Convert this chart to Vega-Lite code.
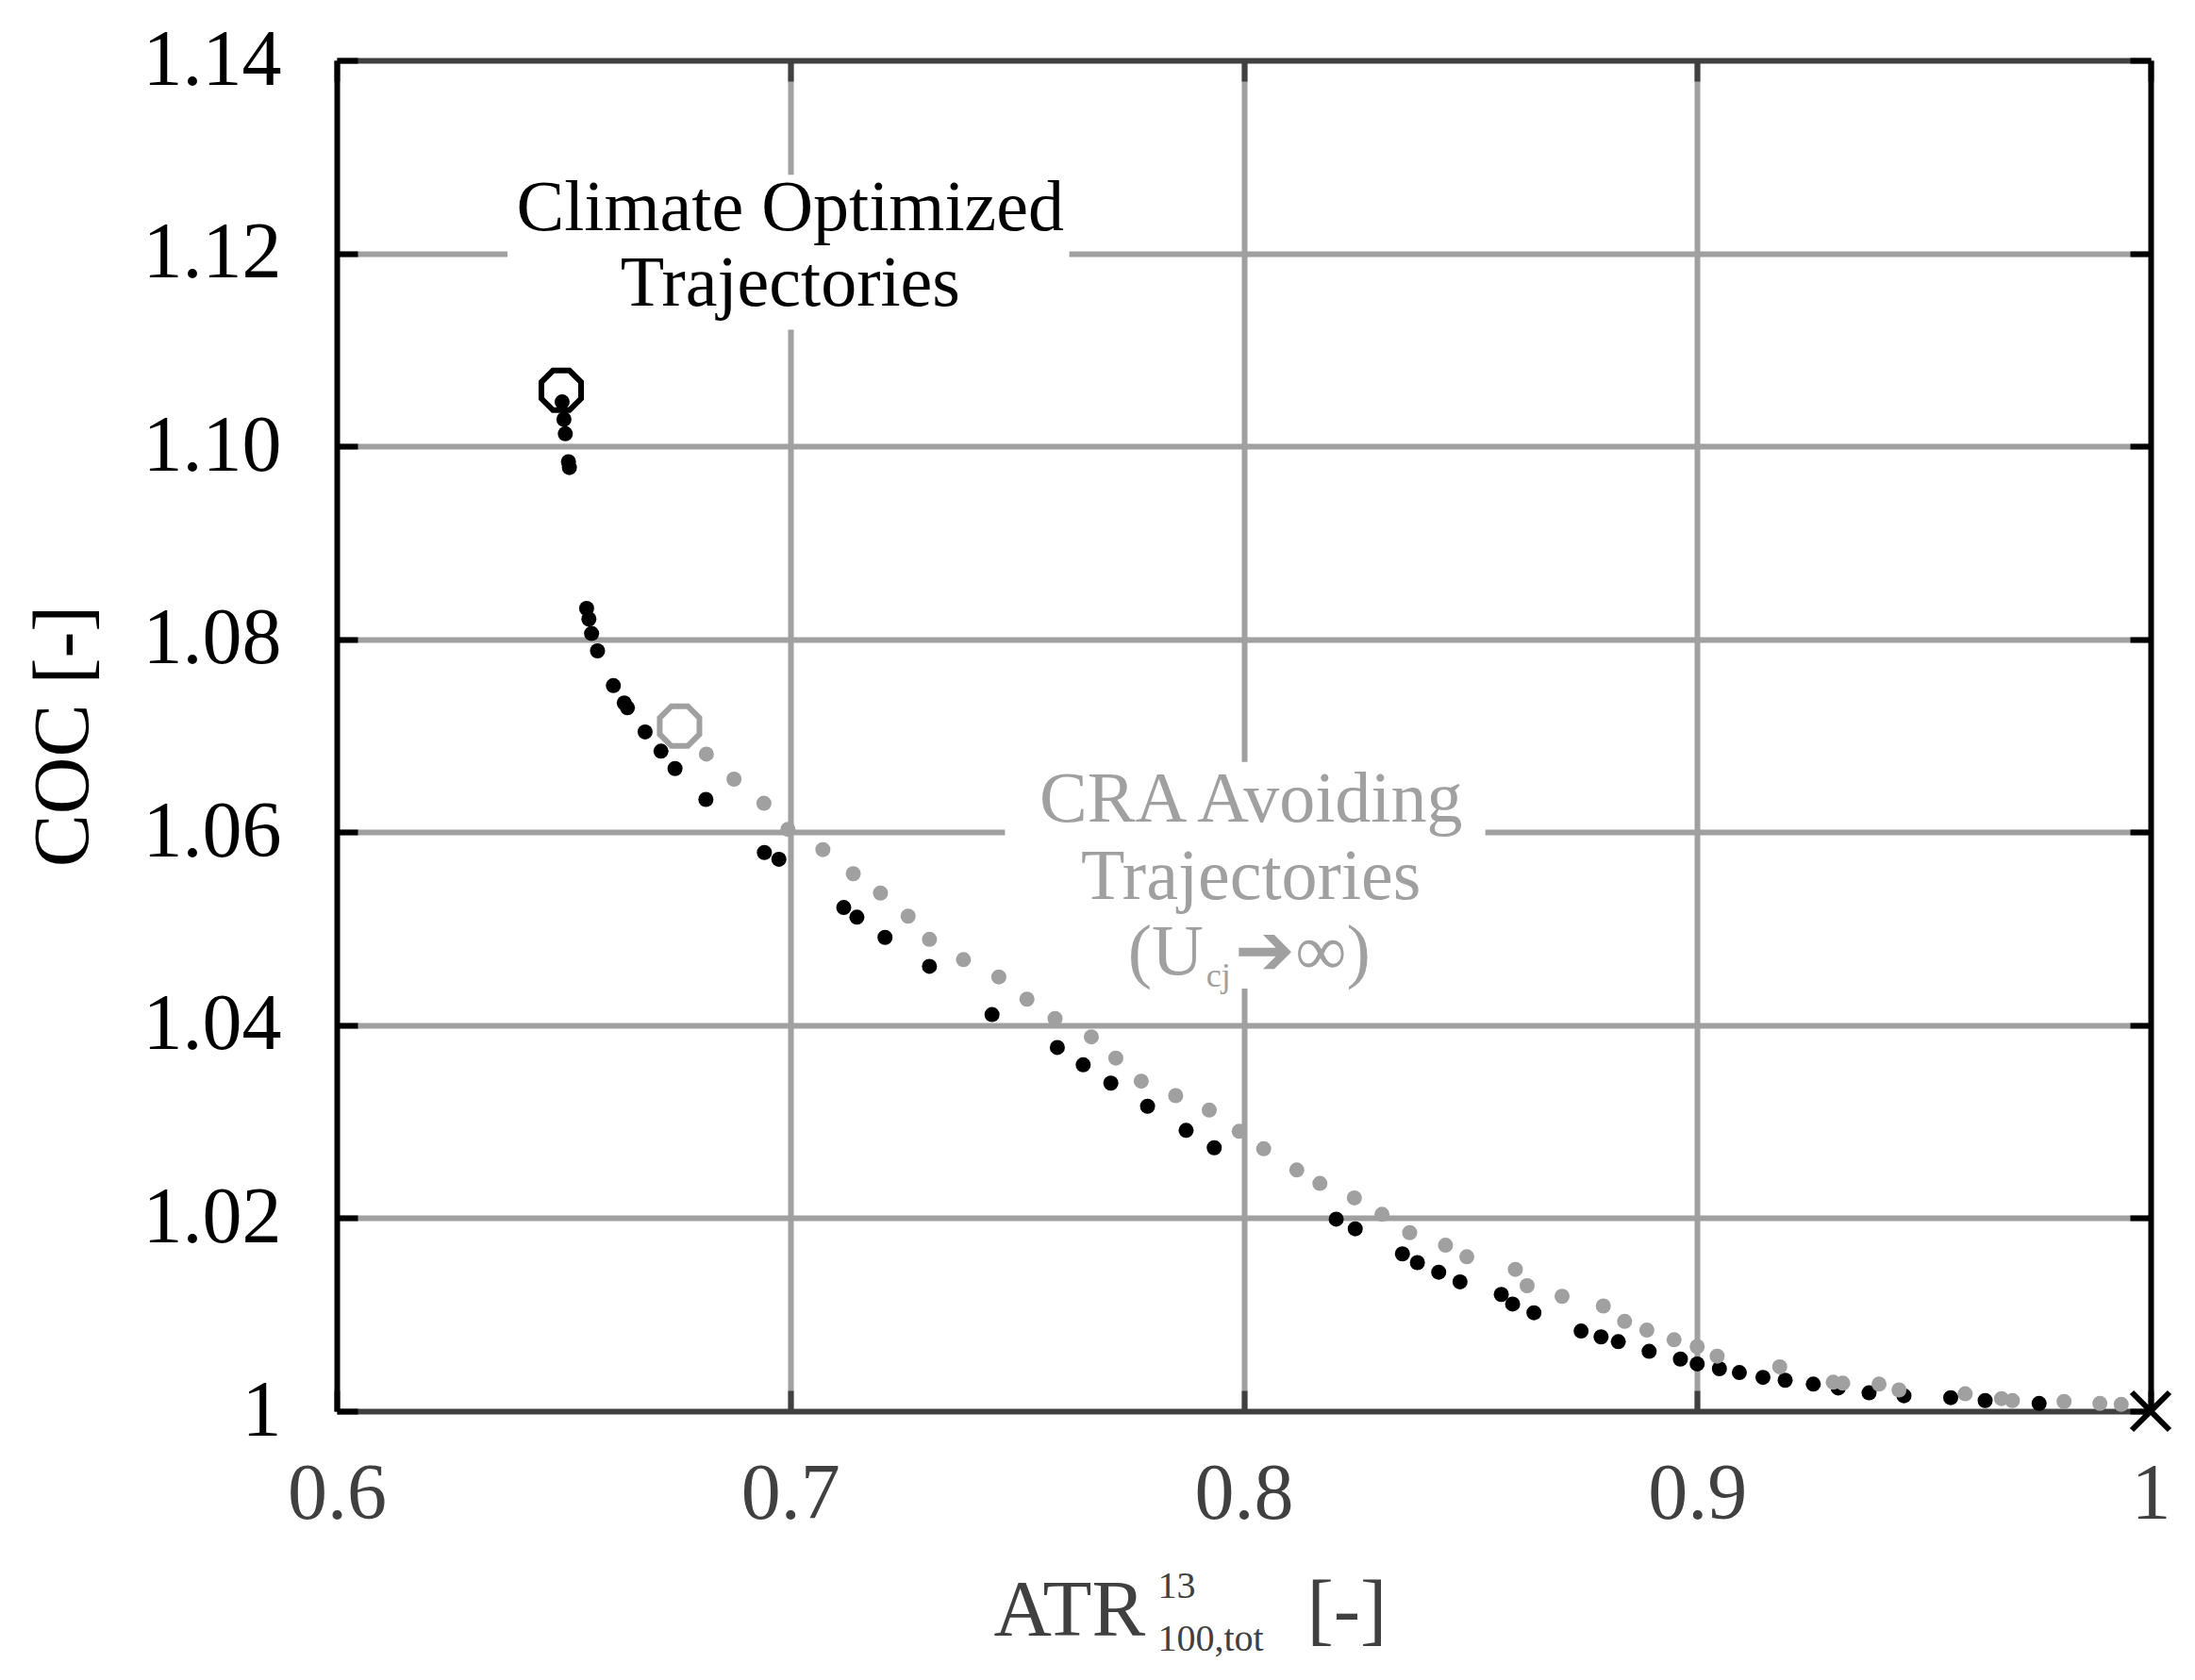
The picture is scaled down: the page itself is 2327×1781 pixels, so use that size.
{
  "$schema": "https://vega.github.io/schema/vega-lite/v6.json",
  "description": "COC versus ATR for climate optimized and CRA avoiding trajectories",
  "width": 1923,
  "height": 1432,
  "autosize": "none",
  "padding": {"left": 357, "top": 64, "right": 47, "bottom": 285},
  "background": "white",
  "config": {
    "view": {"stroke": null},
    "font": "Liberation Serif",
    "axis": {"labelFont": "Liberation Serif", "titleFont": "Liberation Serif", "titleFontWeight": "normal"}
  },
  "datasets": {
    "boxes": [
      {"x": 0.63765, "x2": 0.76154, "y": 1.1121, "y2": 1.12814},
      {"x": 0.74735, "x2": 0.85329, "y": 1.04379, "y2": 1.06728}
    ],
    "climate": [
      {"x": 0.6497, "y": 1.1046}, {"x": 0.6501, "y": 1.1028}, {"x": 0.6504, "y": 1.1013},
      {"x": 0.6511, "y": 1.0984}, {"x": 0.6513, "y": 1.0978}, {"x": 0.6551, "y": 1.0832},
      {"x": 0.6556, "y": 1.0821}, {"x": 0.6562, "y": 1.0806}, {"x": 0.6575, "y": 1.0788},
      {"x": 0.661, "y": 1.0752}, {"x": 0.6634, "y": 1.0734}, {"x": 0.6641, "y": 1.0729},
      {"x": 0.668, "y": 1.0704}, {"x": 0.6715, "y": 1.0684}, {"x": 0.6746, "y": 1.0666},
      {"x": 0.6814, "y": 1.0634}, {"x": 0.6943, "y": 1.0579}, {"x": 0.6975, "y": 1.0572},
      {"x": 0.7118, "y": 1.0522}, {"x": 0.7147, "y": 1.0512}, {"x": 0.7209, "y": 1.0491},
      {"x": 0.7307, "y": 1.0461}, {"x": 0.7445, "y": 1.0411}, {"x": 0.7589, "y": 1.0377},
      {"x": 0.7646, "y": 1.0359}, {"x": 0.7707, "y": 1.034}, {"x": 0.7788, "y": 1.0316},
      {"x": 0.7873, "y": 1.0291}, {"x": 0.7935, "y": 1.0273}, {"x": 0.8204, "y": 1.0199},
      {"x": 0.8246, "y": 1.0189}, {"x": 0.835, "y": 1.0163}, {"x": 0.8383, "y": 1.0154},
      {"x": 0.843, "y": 1.0144}, {"x": 0.8477, "y": 1.0134}, {"x": 0.8568, "y": 1.0121},
      {"x": 0.8593, "y": 1.0111}, {"x": 0.864, "y": 1.0102}, {"x": 0.8744, "y": 1.0083},
      {"x": 0.8788, "y": 1.0077}, {"x": 0.8826, "y": 1.0072}, {"x": 0.8894, "y": 1.0062},
      {"x": 0.8963, "y": 1.0054}, {"x": 0.9, "y": 1.0049}, {"x": 0.9049, "y": 1.0044},
      {"x": 0.9093, "y": 1.004}, {"x": 0.9145, "y": 1.0035}, {"x": 0.9194, "y": 1.0032},
      {"x": 0.9256, "y": 1.0028}, {"x": 0.9311, "y": 1.0024}, {"x": 0.9379, "y": 1.0019},
      {"x": 0.9456, "y": 1.0016}, {"x": 0.9559, "y": 1.0014}, {"x": 0.9635, "y": 1.0011},
      {"x": 0.9754, "y": 1.0008}
    ],
    "cra": [
      {"x": 0.6815, "y": 1.0681}, {"x": 0.6876, "y": 1.0655}, {"x": 0.6942, "y": 1.063},
      {"x": 0.6995, "y": 1.0603}, {"x": 0.7072, "y": 1.0582}, {"x": 0.7139, "y": 1.0557},
      {"x": 0.7199, "y": 1.0537}, {"x": 0.726, "y": 1.0513}, {"x": 0.7307, "y": 1.0489},
      {"x": 0.7382, "y": 1.0468}, {"x": 0.746, "y": 1.045}, {"x": 0.7522, "y": 1.0427},
      {"x": 0.7584, "y": 1.0407}, {"x": 0.7664, "y": 1.0388}, {"x": 0.7718, "y": 1.0366},
      {"x": 0.7774, "y": 1.0342}, {"x": 0.785, "y": 1.0327}, {"x": 0.7924, "y": 1.0312},
      {"x": 0.799, "y": 1.029}, {"x": 0.8044, "y": 1.0272}, {"x": 0.8117, "y": 1.025},
      {"x": 0.8168, "y": 1.0236}, {"x": 0.8244, "y": 1.0221}, {"x": 0.8305, "y": 1.0204},
      {"x": 0.8366, "y": 1.0185}, {"x": 0.8445, "y": 1.0172}, {"x": 0.8492, "y": 1.016},
      {"x": 0.8599, "y": 1.0147}, {"x": 0.8625, "y": 1.013}, {"x": 0.8702, "y": 1.0119},
      {"x": 0.8793, "y": 1.0109}, {"x": 0.884, "y": 1.0093}, {"x": 0.8889, "y": 1.0084},
      {"x": 0.8949, "y": 1.0074}, {"x": 0.9, "y": 1.0067}, {"x": 0.9044, "y": 1.0057},
      {"x": 0.9182, "y": 1.0046}, {"x": 0.93, "y": 1.003}, {"x": 0.9321, "y": 1.0029},
      {"x": 0.9401, "y": 1.0028}, {"x": 0.9445, "y": 1.0022}, {"x": 0.9591, "y": 1.0018},
      {"x": 0.9671, "y": 1.0013}, {"x": 0.9695, "y": 1.0011}, {"x": 0.9809, "y": 1.001},
      {"x": 0.9888, "y": 1.0008}, {"x": 0.9935, "y": 1.0007}
    ],
    "optimum_climate": [{"x": 0.6495, "y": 1.1058}],
    "optimum_cra": [{"x": 0.6756, "y": 1.071}],
    "reference": [{"x": 1.0, "y": 1.0}],
    "notes": [
      {"text": "Climate Optimized", "x": 0.7, "y": 1.1224, "group": "black"},
      {"text": "Trajectories", "x": 0.7, "y": 1.11455, "group": "black"},
      {"text": "CRA Avoiding", "x": 0.8016, "y": 1.06112, "group": "grey"},
      {"text": "Trajectories", "x": 0.8016, "y": 1.05313, "group": "grey"},
      {"text": "(U", "x": 0.79116, "y": 1.04525, "group": "greyRight"},
      {"text": "cj", "x": 0.79174, "y": 1.04395, "group": "greySub"},
      {"text": "➔∞)", "x": 0.79809, "y": 1.04525, "group": "greyLeft"}
    ]
  },
  "resolve": {"axis": {"x": "independent", "y": "independent"}},
  "layer": [
    {
      "data": {"name": "boxes"},
      "mark": {"type": "rect", "fill": "white", "strokeWidth": 0},
      "encoding": {
        "x": {
          "field": "x", "type": "quantitative",
          "scale": {"domain": [0.6, 1.0], "nice": false, "zero": false},
          "axis": {
            "orient": "bottom",
            "values": [0.6, 0.7, 0.8, 0.9, 1.0],
            "format": ".1~f",
            "domainColor": "#404040", "domainWidth": 6,
            "tickColor": "#404040", "tickWidth": 6, "tickSize": -22,
            "labelColor": "#404040", "labelFontSize": 84, "labelBaseline": "alphabetic",
            "labelPadding": 135.5, "labelFlush": false, "labelOverlap": false,
            "grid": true, "gridColor": "#a0a0a0", "gridWidth": 6,
            "gridOpacity": {"condition": {"test": "datum.value <= 0.6001 || datum.value >= 0.9999", "value": 0}, "value": 1},
            "title": "ATR", "titleFontSize": 85, "titleColor": "#404040",
            "titleAlign": "left", "titleBaseline": "alphabetic", "titleX": 696, "titleY": 237
          }
        },
        "x2": {"field": "x2"},
        "y": {
          "field": "y", "type": "quantitative",
          "scale": {"domain": [1.0, 1.14], "nice": false, "zero": false},
          "axis": {
            "orient": "left",
            "values": [1.0, 1.02, 1.04, 1.06, 1.08, 1.1, 1.12, 1.14],
            "labelExpr": "datum.value == 1 ? '1' : format(datum.value, '.2f')",
            "domainColor": "black", "domainWidth": 6,
            "tickColor": "black", "tickWidth": 6, "tickSize": -22,
            "labelColor": "black", "labelFontSize": 84, "labelPadding": 81,
            "labelFlush": false, "labelOverlap": false,
            "grid": true, "gridColor": "#a0a0a0", "gridWidth": 6,
            "gridOpacity": {"condition": {"test": "datum.value <= 1.0001 || datum.value >= 1.1399", "value": 0}, "value": 1},
            "title": "COC [-]", "titleFontSize": 84, "titleColor": "black",
            "titleBaseline": "alphabetic", "titleX": -264, "titleY": 716
          }
        },
        "y2": {"field": "y2"}
      }
    },
    {
      "data": {"name": "climate"},
      "mark": {"type": "point", "shape": "circle", "filled": true, "size": 256, "opacity": 1, "color": "black", "strokeWidth": 0},
      "encoding": {
        "x": {
          "field": "x", "type": "quantitative",
          "scale": {"domain": [0.6, 1.0], "nice": false, "zero": false},
          "axis": {
            "orient": "top", "values": [0.6, 0.7, 0.8, 0.9, 1.0],
            "domainColor": "#404040", "domainWidth": 6,
            "tickColor": "#404040", "tickWidth": 6, "tickSize": -22,
            "labels": false, "grid": false, "title": null
          }
        },
        "y": {
          "field": "y", "type": "quantitative",
          "scale": {"domain": [1.0, 1.14], "nice": false, "zero": false},
          "axis": {
            "orient": "right", "values": [1.0, 1.02, 1.04, 1.06, 1.08, 1.1, 1.12, 1.14],
            "domainColor": "black", "domainWidth": 6,
            "tickColor": "black", "tickWidth": 6, "tickSize": -22,
            "labels": false, "grid": false, "title": null
          }
        }
      }
    },
    {
      "data": {"name": "cra"},
      "mark": {"type": "point", "shape": "circle", "filled": true, "size": 256, "opacity": 1, "color": "#a0a0a0", "strokeWidth": 0},
      "encoding": {
        "x": {
          "field": "x", "type": "quantitative",
          "scale": {"domain": [0.6, 1.0], "nice": false, "zero": false},
          "axis": {
            "orient": "bottom", "domain": false, "ticks": false, "labels": false, "grid": false,
            "title": "13", "titleFontSize": 40, "titleColor": "#404040",
            "titleAlign": "left", "titleBaseline": "alphabetic", "titleX": 870, "titleY": 197
          }
        },
        "y": {"field": "y", "type": "quantitative", "scale": {"domain": [1.0, 1.14], "nice": false, "zero": false}, "axis": null}
      }
    },
    {
      "data": {"name": "optimum_climate"},
      "mark": {"type": "point", "shape": "M-0.383,-0.924L0.383,-0.924L0.924,-0.383L0.924,0.383L0.383,0.924L-0.383,0.924L-0.924,0.383L-0.924,-0.383Z", "filled": false, "size": 2070, "opacity": 1, "stroke": "black", "strokeWidth": 6},
      "encoding": {
        "x": {
          "field": "x", "type": "quantitative",
          "scale": {"domain": [0.6, 1.0], "nice": false, "zero": false},
          "axis": {
            "orient": "bottom", "domain": false, "ticks": false, "labels": false, "grid": false,
            "title": "100,tot", "titleFontSize": 40, "titleColor": "#404040",
            "titleAlign": "left", "titleBaseline": "alphabetic", "titleX": 870, "titleY": 253
          }
        },
        "y": {"field": "y", "type": "quantitative", "scale": {"domain": [1.0, 1.14], "nice": false, "zero": false}, "axis": null}
      }
    },
    {
      "data": {"name": "optimum_cra"},
      "mark": {"type": "point", "shape": "M-0.383,-0.924L0.383,-0.924L0.924,-0.383L0.924,0.383L0.383,0.924L-0.383,0.924L-0.924,0.383L-0.924,-0.383Z", "filled": false, "size": 2070, "opacity": 1, "stroke": "#a0a0a0", "strokeWidth": 6},
      "encoding": {
        "x": {
          "field": "x", "type": "quantitative",
          "scale": {"domain": [0.6, 1.0], "nice": false, "zero": false},
          "axis": {
            "orient": "bottom", "domain": false, "ticks": false, "labels": false, "grid": false,
            "title": "[-]", "titleFontSize": 85, "titleColor": "#404040",
            "titleAlign": "left", "titleBaseline": "alphabetic", "titleX": 1028, "titleY": 237
          }
        },
        "y": {"field": "y", "type": "quantitative", "scale": {"domain": [1.0, 1.14], "nice": false, "zero": false}, "axis": null}
      }
    },
    {
      "data": {"name": "reference"},
      "mark": {"type": "point", "shape": "M-1,-1L1,1M-1,1L1,-1", "filled": false, "size": 1600, "opacity": 1, "stroke": "black", "strokeWidth": 6},
      "encoding": {
        "x": {"field": "x", "type": "quantitative", "scale": {"domain": [0.6, 1.0], "nice": false, "zero": false}, "axis": null},
        "y": {"field": "y", "type": "quantitative", "scale": {"domain": [1.0, 1.14], "nice": false, "zero": false}, "axis": null}
      }
    },
    {
      "data": {"name": "notes"},
      "transform": [{"filter": "datum.group == 'black'"}],
      "mark": {"type": "text", "font": "Liberation Serif", "fontSize": 76, "color": "black", "align": "center", "baseline": "alphabetic"},
      "encoding": {
        "x": {"field": "x", "type": "quantitative", "scale": {"domain": [0.6, 1.0], "nice": false, "zero": false}, "axis": null},
        "y": {"field": "y", "type": "quantitative", "scale": {"domain": [1.0, 1.14], "nice": false, "zero": false}, "axis": null},
        "text": {"field": "text"}
      }
    },
    {
      "data": {"name": "notes"},
      "transform": [{"filter": "datum.group == 'grey'"}],
      "mark": {"type": "text", "font": "Liberation Serif", "fontSize": 76, "color": "#a0a0a0", "align": "center", "baseline": "alphabetic"},
      "encoding": {
        "x": {"field": "x", "type": "quantitative", "scale": {"domain": [0.6, 1.0], "nice": false, "zero": false}, "axis": null},
        "y": {"field": "y", "type": "quantitative", "scale": {"domain": [1.0, 1.14], "nice": false, "zero": false}, "axis": null},
        "text": {"field": "text"}
      }
    },
    {
      "data": {"name": "notes"},
      "transform": [{"filter": "datum.group == 'greyRight'"}],
      "mark": {"type": "text", "font": "Liberation Serif", "fontSize": 76, "color": "#a0a0a0", "align": "right", "baseline": "alphabetic"},
      "encoding": {
        "x": {"field": "x", "type": "quantitative", "scale": {"domain": [0.6, 1.0], "nice": false, "zero": false}, "axis": null},
        "y": {"field": "y", "type": "quantitative", "scale": {"domain": [1.0, 1.14], "nice": false, "zero": false}, "axis": null},
        "text": {"field": "text"}
      }
    },
    {
      "data": {"name": "notes"},
      "transform": [{"filter": "datum.group == 'greyLeft'"}],
      "mark": {"type": "text", "font": "Liberation Serif", "fontSize": 76, "color": "#a0a0a0", "align": "left", "baseline": "alphabetic"},
      "encoding": {
        "x": {"field": "x", "type": "quantitative", "scale": {"domain": [0.6, 1.0], "nice": false, "zero": false}, "axis": null},
        "y": {"field": "y", "type": "quantitative", "scale": {"domain": [1.0, 1.14], "nice": false, "zero": false}, "axis": null},
        "text": {"field": "text"}
      }
    },
    {
      "data": {"name": "notes"},
      "transform": [{"filter": "datum.group == 'greySub'"}],
      "mark": {"type": "text", "font": "Liberation Serif", "fontSize": 36, "color": "#a0a0a0", "align": "left", "baseline": "alphabetic"},
      "encoding": {
        "x": {"field": "x", "type": "quantitative", "scale": {"domain": [0.6, 1.0], "nice": false, "zero": false}, "axis": null},
        "y": {"field": "y", "type": "quantitative", "scale": {"domain": [1.0, 1.14], "nice": false, "zero": false}, "axis": null},
        "text": {"field": "text"}
      }
    }
  ]
}
